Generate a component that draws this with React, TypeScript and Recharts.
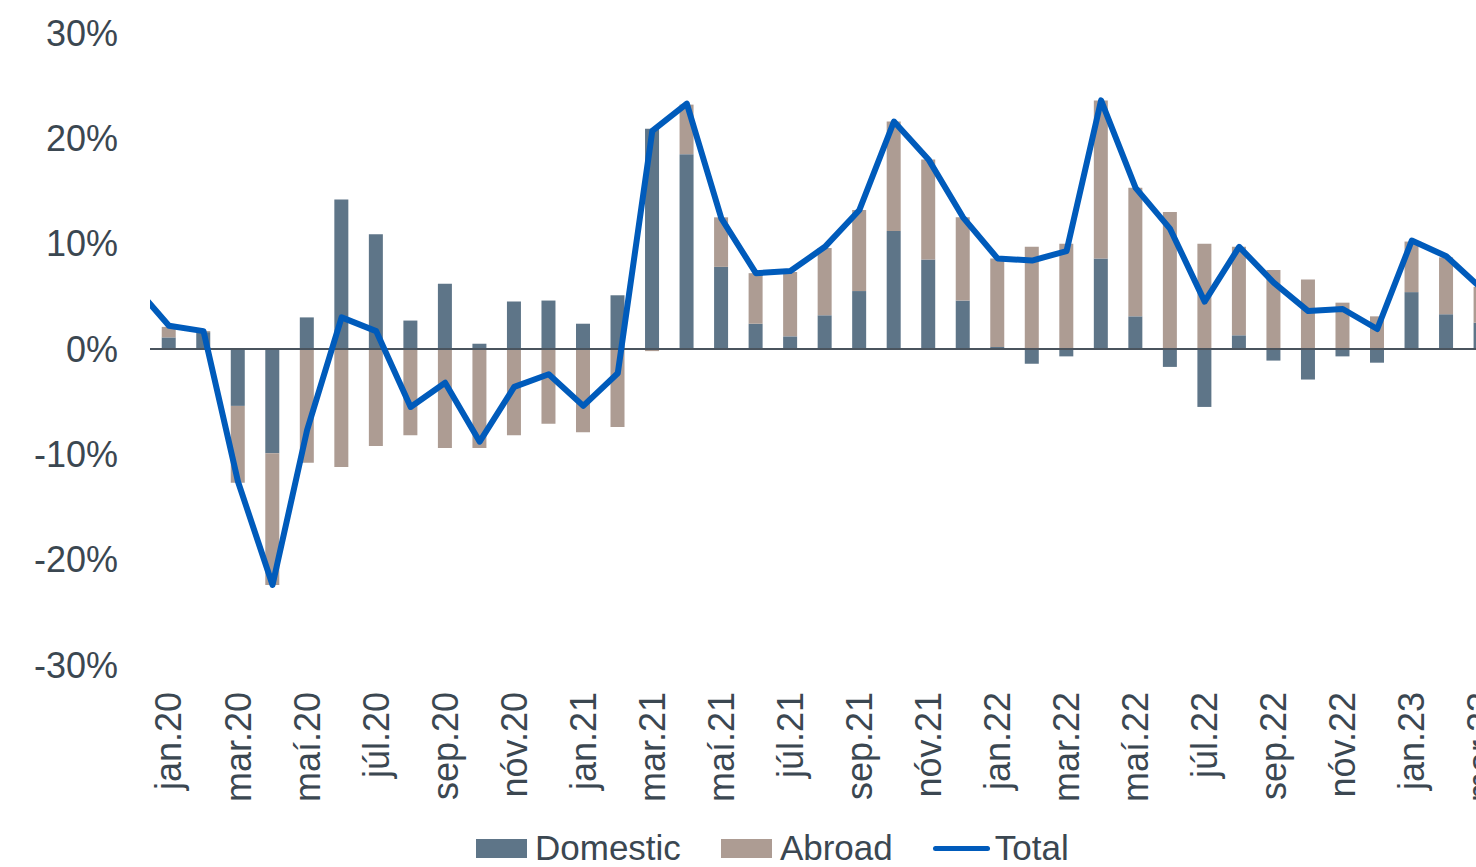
import {
    Bar,
    ComposedChart,
    Legend,
    Line,
    ReferenceLine,
    XAxis,
    YAxis,
} from 'recharts';

// month labels, des.19 is only there so the Total line enters from the left edge
const MONTHS = [
    'des.19',
    'jan.20', 'feb.20', 'mar.20', 'apr.20', 'maí.20', 'jún.20',
    'júl.20', 'ágú.20', 'sep.20', 'okt.20', 'nóv.20', 'des.20',
    'jan.21', 'feb.21', 'mar.21', 'apr.21', 'maí.21', 'jún.21',
    'júl.21', 'ágú.21', 'sep.21', 'okt.21', 'nóv.21', 'des.21',
    'jan.22', 'feb.22', 'mar.22', 'apr.22', 'maí.22', 'jún.22',
    'júl.22', 'ágú.22', 'sep.22', 'okt.22', 'nóv.22', 'des.22',
    'jan.23', 'feb.23', 'mar.23',
];

const DOMESTIC = [
    null,
    1.1, 1.6, -5.4, -9.9, 3.0, 14.2,
    10.9, 2.7, 6.2, 0.5, 4.5, 4.6,
    2.4, 5.1, 20.9, 18.5, 7.8, 2.4,
    1.2, 3.2, 5.5, 11.2, 8.5, 4.6,
    0.2, -1.4, -0.7, 8.6, 3.1, -1.7,
    -5.5, 1.3, -1.1, -2.9, -0.7, -1.3,
    5.4, 3.3, 2.5,
];

const ABROAD = [
    null,
    1.0, 0.1, -7.3, -12.5, -10.8, -11.2,
    -9.2, -8.2, -9.4, -9.4, -8.2, -7.1,
    -7.9, -7.4, -0.2, 4.7, 4.7, 4.8,
    6.1, 6.4, 7.7, 10.4, 9.5, 7.9,
    8.4, 9.7, 10.0, 15.0, 12.2, 13.0,
    10.0, 8.4, 7.5, 6.6, 4.4, 3.1,
    4.8, 5.4, 3.4,
];

const TOTAL = [
    6.0,
    2.2, 1.7, -12.6, -22.4, -7.7, 3.0,
    1.7, -5.5, -3.2, -8.8, -3.6, -2.4,
    -5.4, -2.3, 20.7, 23.3, 12.4, 7.2,
    7.4, 9.7, 13.2, 21.6, 18.0, 12.5,
    8.6, 8.4, 9.3, 23.6, 15.3, 11.4,
    4.5, 9.7, 6.3, 3.6, 3.8, 1.9,
    10.3, 8.8, 5.8,
];

const Y_TICKS = [-30, -20, -10, 0, 10, 20, 30];
// every other month gets a label (jan, mar, maí, ...)
const X_TICKS = MONTHS.map((_, i) => i).filter((i) => i % 2 === 1);

const COLORS = {
    domestic: '#5e7588',
    abroad: '#ad9c93',
    total: '#005bbb',
    text: '#3b4751',
    zero: '#4a545e',
};

const FONT = '"Liberation Sans", Arial, sans-serif';

const data = MONTHS.map((month, i) => ({
    idx: i,
    month,
    domestic: DOMESTIC[i],
    abroad: ABROAD[i],
    total: TOTAL[i],
}));

if (typeof document !== 'undefined') {
    document.body.style.margin = '0';
}

function MonthTick({ x, y, payload }: { x?: number; y?: number; payload?: { value: number } }) {
    const label = MONTHS[payload?.value ?? 0] ?? '';
    return (
        <text
            x={x}
            y={y}
            transform={`rotate(-90 ${x} ${y})`}
            textAnchor="end"
            dominantBaseline="central"
            fontSize={36}
            fontFamily={FONT}
            fill={COLORS.text}
        >
            {label}
        </text>
    );
}

const LEGEND_ITEMS = [
    { label: 'Domestic', color: COLORS.domestic, kind: 'box', gap: 40 },
    { label: 'Abroad', color: COLORS.abroad, kind: 'box', gap: 40 },
    { label: 'Total', color: COLORS.total, kind: 'line', gap: 0 },
];

function ChartLegend() {
    return (
        <div
            style={{
                height: 60,
                boxSizing: 'border-box',
                paddingTop: 22,
                paddingLeft: 476,
                display: 'flex',
                alignItems: 'center',
                fontFamily: FONT,
                fontSize: 35,
                lineHeight: '36px',
                color: COLORS.text,
                whiteSpace: 'nowrap',
            }}
        >
            {LEGEND_ITEMS.map((item) => (
                <div
                    key={item.label}
                    style={{ display: 'flex', alignItems: 'center', marginRight: item.gap }}
                >
                    {item.kind === 'box' ? (
                        <span
                            style={{
                                width: 51,
                                height: 19,
                                background: item.color,
                                marginRight: 8,
                            }}
                        />
                    ) : (
                        <span
                            style={{
                                width: 57,
                                height: 5,
                                borderRadius: 3,
                                background: item.color,
                                marginRight: 5,
                            }}
                        />
                    )}
                    <span>{item.label}</span>
                </div>
            ))}
        </div>
    );
}

export default function App() {
    return (
        <div style={{ width: 1476, height: 867, overflow: 'hidden', background: '#fff' }}>
            <ComposedChart
                width={1476}
                height={867}
                data={data}
                stackOffset="sign"
                margin={{ top: 33, right: 0, left: 0, bottom: 0 }}
            >
                <XAxis
                    dataKey="idx"
                    type="number"
                    domain={[0.45, 38.86]}
                    allowDataOverflow
                    ticks={X_TICKS}
                    interval={0}
                    axisLine={false}
                    tickLine={false}
                    tickSize={0}
                    tickMargin={27}
                    height={142}
                    tick={<MonthTick />}
                />
                <YAxis
                    domain={[-30, 30]}
                    ticks={Y_TICKS}
                    width={150}
                    axisLine={false}
                    tickLine={false}
                    tickSize={0}
                    tickMargin={32}
                    tickFormatter={(v) => `${v}%`}
                    tick={{ fontSize: 36, fontFamily: FONT, fill: COLORS.text }}
                />
                <Legend
                    verticalAlign="bottom"
                    content={<ChartLegend />}
                    wrapperStyle={{ left: 0, bottom: 0, width: 1476, height: 60 }}
                />
                <Bar
                    dataKey="domestic"
                    stackId="a"
                    fill={COLORS.domestic}
                    barSize={14}
                    isAnimationActive={false}
                />
                <Bar
                    dataKey="abroad"
                    stackId="a"
                    fill={COLORS.abroad}
                    barSize={14}
                    isAnimationActive={false}
                />
                <ReferenceLine y={0} stroke={COLORS.zero} strokeWidth={2} />
                <Line
                    dataKey="total"
                    type="linear"
                    stroke={COLORS.total}
                    strokeWidth={6}
                    strokeLinejoin="round"
                    dot={false}
                    activeDot={false}
                    isAnimationActive={false}
                />
            </ComposedChart>
        </div>
    );
}
